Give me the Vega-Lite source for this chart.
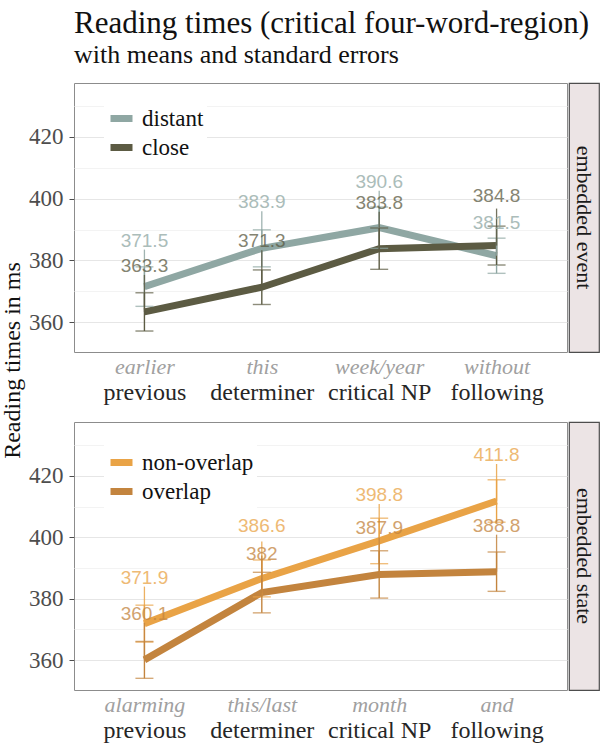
{
  "$schema": "https://vega.github.io/schema/vega-lite/v6.json",
  "background": "white",
  "padding": {"left": 0, "top": 8, "right": 5, "bottom": 2},
  "title": {
    "text": "Reading times (critical four-word-region)",
    "subtitle": "with means and standard errors",
    "anchor": "start",
    "frame": "group",
    "font": "Liberation Serif",
    "fontSize": 31,
    "fontWeight": "normal",
    "color": "#111111",
    "subtitleFont": "Liberation Serif",
    "subtitleFontSize": 26,
    "subtitleColor": "#111111",
    "subtitlePadding": 2,
    "offset": 13
  },
  "config": {
    "view": {"stroke": "#8c8c8c", "strokeWidth": 1},
    "axis": {"labelFont": "Liberation Serif", "titleFont": "Liberation Serif", "domain": false, "gridColor": "#ebebeb"},
    "legend": {"labelFont": "Liberation Serif"}
  },
  "datasets": {
    "event": [
      {"pos": "previous", "cond": "distant", "rt": 371.5, "se": 6.4},
      {"pos": "determiner", "cond": "distant", "rt": 383.9, "se": 6.0},
      {"pos": "critical NP", "cond": "distant", "rt": 390.6, "se": 6.7},
      {"pos": "following", "cond": "distant", "rt": 381.5, "se": 5.7},
      {"pos": "previous", "cond": "close", "rt": 363.3, "se": 6.2},
      {"pos": "determiner", "cond": "close", "rt": 371.3, "se": 5.6},
      {"pos": "critical NP", "cond": "close", "rt": 383.8, "se": 6.7},
      {"pos": "following", "cond": "close", "rt": 384.8, "se": 6.3}
    ],
    "state": [
      {"pos": "previous", "cond": "non-overlap", "rt": 371.9, "se": 6.0},
      {"pos": "determiner", "cond": "non-overlap", "rt": 386.6, "se": 6.0},
      {"pos": "critical NP", "cond": "non-overlap", "rt": 398.8, "se": 7.4},
      {"pos": "following", "cond": "non-overlap", "rt": 411.8, "se": 6.9},
      {"pos": "previous", "cond": "overlap", "rt": 360.1, "se": 6.0},
      {"pos": "determiner", "cond": "overlap", "rt": 382, "se": 6.6},
      {"pos": "critical NP", "cond": "overlap", "rt": 387.9, "se": 7.7},
      {"pos": "following", "cond": "overlap", "rt": 388.8, "se": 6.4}
    ],
    "eventWords": [
      {"pos": "previous", "word": "earlier"},
      {"pos": "determiner", "word": "this"},
      {"pos": "critical NP", "word": "week/year"},
      {"pos": "following", "word": "without"}
    ],
    "stateWords": [
      {"pos": "previous", "word": "alarming"},
      {"pos": "determiner", "word": "this/last"},
      {"pos": "critical NP", "word": "month"},
      {"pos": "following", "word": "and"}
    ]
  },
  "spacing": 0,
  "resolve": {"scale": {"color": "independent", "x": "independent", "y": "independent"}},
  "hconcat": [
    {
      "bounds": "flush",
      "spacing": 70,
      "resolve": {"scale": {"color": "independent", "x": "independent", "y": "independent"}},
      "vconcat": [
        {
          "width": 493,
          "height": 269,
          "resolve": {"scale": {"x": "independent"}},
          "layer": [
            {
              "data": {"name": "event"},
              "encoding": {
                "x": {"field": "pos", "type": "nominal", "sort": ["previous", "determiner", "critical NP", "following"],
                      "scale": {"type": "point", "padding": 0.6},
                      "axis": {"orient": "bottom", "title": null, "labelFontSize": 24, "labelColor": "#262626", "labelPadding": 28, "ticks": false, "labelAngle": 0, "labelOverlap": false, "labelFlush": false}},
                "y": {"field": "rt", "type": "quantitative", "scale": {"domain": [350.3, 437.5], "nice": false, "zero": false},
                      "axis": {"values": [360, 370, 380, 390, 400, 410, 420, 430],
                               "labelExpr": "datum.value % 20 === 0 ? datum.label : ''",
                               "gridColor": {"condition": {"test": "datum.value % 20 === 0", "value": "#e6e6e6"}, "value": "#f3f3f3"},
                               "tickOpacity": {"condition": {"test": "datum.value % 20 === 0", "value": 1}, "value": 0},
                               "tickColor": "#4d4d4d", "tickSize": 5, "labelFontSize": 23, "labelColor": "#4d4d4d", "labelPadding": 6,
                               "title": "Reading times in ms", "titleFontSize": 24, "titleFontWeight": "normal", "titleColor": "#111111",
                               "titleY": 277, "titlePadding": 4}},
                "color": {"field": "cond", "type": "nominal", "scale": {"domain": ["distant", "close"], "range": ["#8fa7a3", "#5c5b43"]},
                          "legend": {"title": null, "orient": "none", "legendX": 30, "legendY": 18, "symbolType": "stroke", "symbolStrokeWidth": 7, "symbolSize": 484, "symbolOpacity": 1, "labelFontSize": 23, "labelColor": "#111111", "labelOffset": 6, "rowPadding": 0, "fillColor": "white", "padding": 3}}
              },
              "layer": [
                {"mark": {"type": "line", "strokeWidth": 7}},
                {"mark": {"type": "errorbar", "ticks": true, "size": 18, "thickness": 1.4}, "encoding": {"yError": {"field": "se"}}},
                {"mark": {"type": "rule", "y2Offset": -37, "strokeWidth": 1.3, "opacity": 0.85}, "encoding": {"y2": {"field": "rt"}}},
                {"transform": [{"filter": "datum.pos !== 'following'"}],
                 "mark": {"type": "text", "dy": -46, "font": "Liberation Sans", "fontSize": 19, "opacity": 0.75}, "encoding": {"text": {"field": "rt", "type": "quantitative"}}},
                {"transform": [{"filter": "datum.pos === 'following' && datum.cond === 'distant'"}],
                 "mark": {"type": "text", "dy": -33, "font": "Liberation Sans", "fontSize": 19, "opacity": 0.75}, "encoding": {"text": {"field": "rt", "type": "quantitative"}}},
                {"transform": [{"filter": "datum.pos === 'following' && datum.cond === 'close'"}],
                 "mark": {"type": "text", "dy": -50, "font": "Liberation Sans", "fontSize": 19, "opacity": 0.75}, "encoding": {"text": {"field": "rt", "type": "quantitative"}}}
              ]
            },
            {
              "data": {"name": "eventWords"},
              "mark": {"type": "point", "opacity": 0},
              "encoding": {
                "x": {"field": "word", "type": "nominal", "sort": null, "scale": {"type": "point", "padding": 0.6},
                      "axis": {"orient": "bottom", "title": null, "grid": false, "ticks": false, "labelAngle": 0, "labelOverlap": false, "labelFlush": false,
                               "labelFontSize": 22, "labelFontStyle": "italic", "labelColor": "#a0a0a0", "labelPadding": 4}}
              }
            }
          ]
        },
        {
          "width": 493,
          "height": 268,
          "resolve": {"scale": {"x": "independent"}},
          "layer": [
            {
              "data": {"name": "state"},
              "encoding": {
                "x": {"field": "pos", "type": "nominal", "sort": ["previous", "determiner", "critical NP", "following"],
                      "scale": {"type": "point", "padding": 0.6},
                      "axis": {"orient": "bottom", "title": null, "labelFontSize": 24, "labelColor": "#262626", "labelPadding": 28, "ticks": false, "labelAngle": 0, "labelOverlap": false, "labelFlush": false}},
                "y": {"field": "rt", "type": "quantitative", "scale": {"domain": [350.3, 437.5], "nice": false, "zero": false},
                      "axis": {"values": [360, 370, 380, 390, 400, 410, 420, 430],
                               "labelExpr": "datum.value % 20 === 0 ? datum.label : ''",
                               "gridColor": {"condition": {"test": "datum.value % 20 === 0", "value": "#e6e6e6"}, "value": "#f3f3f3"},
                               "tickOpacity": {"condition": {"test": "datum.value % 20 === 0", "value": 1}, "value": 0},
                               "tickColor": "#4d4d4d", "tickSize": 5, "labelFontSize": 23, "labelColor": "#4d4d4d", "labelPadding": 6,
                               "title": null}},
                "color": {"field": "cond", "type": "nominal", "scale": {"domain": ["non-overlap", "overlap"], "range": ["#e9a346", "#c3843e"]},
                          "legend": {"title": null, "orient": "none", "legendX": 30, "legendY": 23, "symbolType": "stroke", "symbolStrokeWidth": 7, "symbolSize": 484, "symbolOpacity": 1, "labelFontSize": 23, "labelColor": "#111111", "labelOffset": 6, "rowPadding": 0, "fillColor": "white", "padding": 3}}
              },
              "layer": [
                {"mark": {"type": "line", "strokeWidth": 7}},
                {"mark": {"type": "errorbar", "ticks": true, "size": 18, "thickness": 1.4}, "encoding": {"yError": {"field": "se"}}},
                {"mark": {"type": "rule", "y2Offset": -37, "strokeWidth": 1.3, "opacity": 0.85}, "encoding": {"y2": {"field": "rt"}}},
                {"transform": [{"filter": "datum.pos !== 'determiner'"}],
                 "mark": {"type": "text", "dy": -46, "font": "Liberation Sans", "fontSize": 19, "opacity": 0.75}, "encoding": {"text": {"field": "rt", "type": "quantitative"}}},
                {"transform": [{"filter": "datum.pos === 'determiner' && datum.cond === 'non-overlap'"}],
                 "mark": {"type": "text", "dy": -52, "font": "Liberation Sans", "fontSize": 19, "opacity": 0.75}, "encoding": {"text": {"field": "rt", "type": "quantitative"}}},
                {"transform": [{"filter": "datum.pos === 'determiner' && datum.cond === 'overlap'"}],
                 "mark": {"type": "text", "dy": -39, "font": "Liberation Sans", "fontSize": 19, "opacity": 0.75}, "encoding": {"text": {"field": "rt", "type": "quantitative"}}}
              ]
            },
            {
              "data": {"name": "stateWords"},
              "mark": {"type": "point", "opacity": 0},
              "encoding": {
                "x": {"field": "word", "type": "nominal", "sort": null, "scale": {"type": "point", "padding": 0.6},
                      "axis": {"orient": "bottom", "title": null, "grid": false, "ticks": false, "labelAngle": 0, "labelOverlap": false, "labelFlush": false,
                               "labelFontSize": 22, "labelFontStyle": "italic", "labelColor": "#a0a0a0", "labelPadding": 4}}
              }
            }
          ]
        }
      ]
    },
    {
      "bounds": "flush",
      "spacing": 70,
      "vconcat": [
        {
          "width": 30,
          "height": 269,
          "view": {"stroke": "#4d4d4d", "fill": "#ece4e5", "strokeWidth": 1.2},
          "data": {"values": [{"strip": "embedded event"}]},
          "mark": {"type": "text", "angle": 90, "font": "Liberation Serif", "fontSize": 22, "color": "#1a1a1a"},
          "encoding": {"text": {"field": "strip"}}
        },
        {
          "width": 30,
          "height": 268,
          "view": {"stroke": "#4d4d4d", "fill": "#ece4e5", "strokeWidth": 1.2},
          "data": {"values": [{"strip": "embedded state"}]},
          "mark": {"type": "text", "angle": 90, "font": "Liberation Serif", "fontSize": 22, "color": "#1a1a1a"},
          "encoding": {"text": {"field": "strip"}}
        }
      ]
    }
  ]
}
